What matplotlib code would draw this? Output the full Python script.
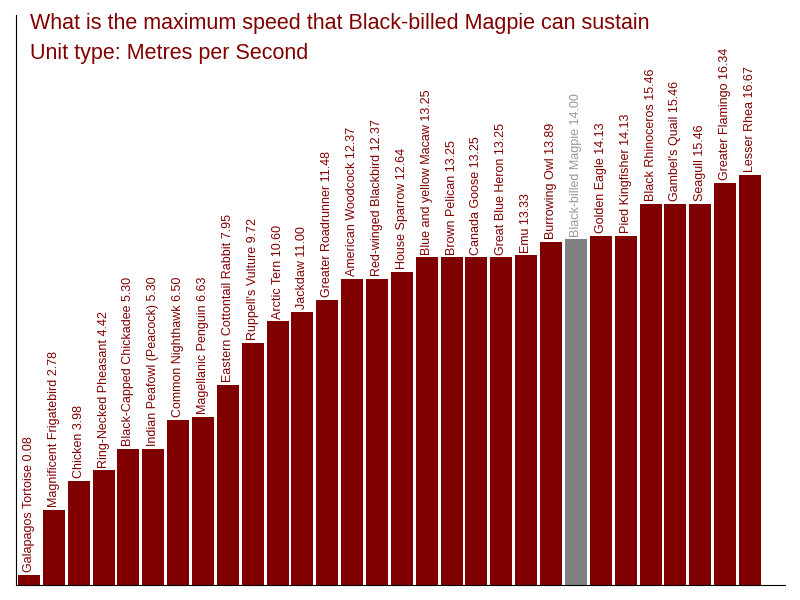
import matplotlib
matplotlib.use("Agg")
import matplotlib.pyplot as plt

names = ["Galapagos Tortoise", "Magnificent Frigatebird", "Chicken", "Ring-Necked Pheasant",
         "Black-Capped Chickadee", "Indian Peafowl (Peacock)", "Common Nighthawk",
         "Magellanic Penguin", "Eastern Cottontail Rabbit", "Ruppell's Vulture", "Arctic Tern",
         "Jackdaw", "Greater Roadrunner", "American Woodcock", "Red-winged Blackbird",
         "House Sparrow", "Blue and yellow Macaw", "Brown Pelican", "Canada Goose",
         "Great Blue Heron", "Emu", "Burrowing Owl", "Black-billed Magpie", "Golden Eagle",
         "Pied Kingfisher", "Black Rhinoceros", "Gambel's Quail", "Seagull",
         "Greater Flamingo", "Lesser Rhea"]
speeds = [0.08, 2.78, 3.98, 4.42, 5.30, 5.30, 6.50, 6.63, 7.95, 9.72, 10.60, 11.00, 11.48,
          12.37, 12.37, 12.64, 13.25, 13.25, 13.25, 13.25, 13.33, 13.89, 14.00, 14.13, 14.13,
          15.46, 15.46, 15.46, 16.34, 16.67]
highlight = "Black-billed Magpie"

plt.rcParams['font.family'] = ['Liberation Sans', 'DejaVu Sans']
RED = "#800000"
GRAY = "#808080"

fig = plt.figure(figsize=(8, 6), dpi=100)
ax = fig.add_axes([0.02, 0.025, 0.961, 0.95])

YMIN = -0.33
x = list(range(len(names)))
colors = [GRAY if n == highlight else RED for n in names]
ax.bar(x, [v - YMIN for v in speeds], bottom=YMIN, width=0.885, color=colors)

for i, (n, v) in enumerate(zip(names, speeds)):
    tc = "#999999" if n == highlight else RED
    ax.annotate(f"{n} {v:.2f}", (i, v), xytext=(0, 2), textcoords="offset points",
                rotation=90, ha="center", va="bottom", fontsize=9, color=tc)

ax.set_xlim(-0.52, 30.4)
ax.set_ylim(YMIN, 23.3)
ax.set_xticks([])
ax.set_yticks([])
for s in ["top", "right"]:
    ax.spines[s].set_visible(False)
ax.spines["left"].set_color("black")
ax.spines["bottom"].set_color("black")

fig.text(30 / 800, 1 - 23 / 600, "What is the maximum speed that Black-billed Magpie can sustain",
         fontsize=15.5, color=RED, va="center", ha="left")
fig.text(30 / 800, 1 - 53 / 600, "Unit type: Metres per Second",
         fontsize=15.5, color=RED, va="center", ha="left")

fig.savefig("out.png", dpi=100)
